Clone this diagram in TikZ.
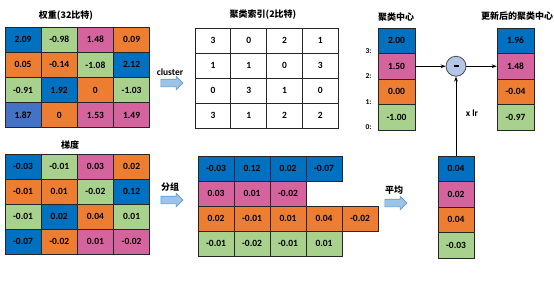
\documentclass[tikz,border=0pt]{standalone}
\usepackage{fontspec}
\setmainfont{Carlito}
\newfontfamily\cjk{Noto Sans CJK SC}
\usetikzlibrary{arrows.meta,positioning,shapes.arrows}
\definecolor{cb}{HTML}{0070C0}
\definecolor{cbl}{HTML}{4472C4}
\definecolor{cg}{HTML}{A9D18E}
\definecolor{cp}{HTML}{D5649E}
\definecolor{co}{HTML}{ED7D31}
\definecolor{sky}{HTML}{9DC3E6}
\definecolor{skyd}{HTML}{5B9BD5}
\definecolor{circ}{HTML}{B4C7E7}
\tikzset{
  cell/.style={draw=black!85,line width=0.7pt,minimum width=36pt,minimum height=25pt,inner sep=0pt,font=\fontsize{9.5}{11}\selectfont\bfseries},
  ttl/.style={font=\fontsize{9}{10}\selectfont\cjk\bfseries,inner sep=1pt},
  lbl/.style={font=\fontsize{9.5}{11}\selectfont\bfseries,inner sep=1pt},
  idx/.style={font=\fontsize{7.5}{8}\selectfont\bfseries,inner sep=0pt},
  blk/.style={single arrow,draw=skyd,fill=sky,minimum height=22pt,single arrow head extend=3pt,inner sep=3.5pt,line width=0.6pt},
  ar/.style={-{Stealth[length=5pt]},line width=0.8pt},
}
\begin{document}
\begin{tikzpicture}[x=1pt,y=-1pt]
\useasboundingbox (0,0) rectangle (554,285);
% weights
\node[ttl] (tw) at (66,16) {权重(32比特)};
\foreach \v/\c [count=\i from 0] in {2.09/cb,-0.98/cg,1.48/cp,0.09/co,0.05/co,-0.14/co,-1.08/cg,2.12/cb,-0.91/cg,1.92/cb,0/co,-1.03/cg,1.87/cbl,0/co,1.53/cp,1.49/cp}{
  \pgfmathtruncatemacro\r{div(\i,4)}\pgfmathtruncatemacro\k{mod(\i,4)}
  \node[cell,fill=\c] (w\r\k) at (23+36.2*\k,39.6+25.2*\r) {\v};
}
% cluster index
\node[ttl] (ti) at (263,15) {聚类索引(2比特)};
\foreach \v [count=\i from 0] in {3,0,2,1,1,1,0,3,0,3,1,0,3,1,2,2}{
  \pgfmathtruncatemacro\r{div(\i,4)}\pgfmathtruncatemacro\k{mod(\i,4)}
  \node[cell,fill=white] (x\r\k) at (213+35.8*\k,40.5+25*\r) {\v};
}
\node[blk] (a1) at (170,83) {};
\node[lbl,above=2pt of a1] (lcl) {cluster};
% gradient
\node[ttl] (tg) at (70,145) {梯度};
\foreach \v/\c [count=\i from 0] in {-0.03/cb,-0.01/cg,0.03/cp,0.02/co,-0.01/co,0.01/co,-0.02/cg,0.12/cb,-0.01/cg,0.02/cb,0.04/co,0.01/cg,-0.07/cb,-0.02/co,0.01/cp,-0.02/cp}{
  \pgfmathtruncatemacro\r{div(\i,4)}\pgfmathtruncatemacro\k{mod(\i,4)}
  \node[cell,fill=\c] (g\r\k) at (23+36.2*\k,166.5+25*\r) {\v};
}
\node[blk] (a2) at (170,200) {};
\node[ttl,above=3pt of a2] (lgrp) {分组};
% grouped gradient
\foreach \c/\vals [count=\r from 0] in {cb/{-0.03,0.12,0.02,-0.07},cp/{0.03,0.01,-0.02},co/{0.02,-0.01,0.01,0.04,-0.02},cg/{-0.01,-0.02,-0.01,0.01}}
  \foreach \v [count=\k from 0] in \vals
    \node[cell,fill=\c] (q\r\k) at (216+36*\k,168.5+25*\r) {\v};
\node[blk] (a3) at (394,203) {};
\node[ttl,above=3pt of a3] (lavg) {平均};
% centroids
\node[ttl] (tc) at (396,17) {聚类中心};
\foreach \v/\c [count=\i from 0] in {2.00/cb,1.50/cp,0.00/co,-1.00/cg}{
  \pgfmathtruncatemacro\n{3-\i}
  \node[cell,fill=\c,minimum width=37pt,minimum height=25.5pt] (c\n) at (396.5,40.75+25.5*\i) {\v};
  \node[idx,anchor=east] (n\n) at ([xshift=-6pt,yshift=3pt]c\n.south west) {\n:};
}
\node[circle,draw=black!70,fill=circ,minimum size=20pt,inner sep=0pt,line width=0.8pt] (minus) at (456,66.25) {\rule{5pt}{1.8pt}};
% updated centroids
\node[ttl] (tu) at (517,16) {更新后的聚类中心};
\foreach \v/\c [count=\i from 0] in {1.96/cb,1.48/cp,-0.04/co,-0.97/cg}{
  \pgfmathtruncatemacro\n{3-\i}
  \node[cell,fill=\c,minimum width=37pt,minimum height=25.5pt] (u\n) at (515.5,40.75+25.5*\i) {\v};
}
% mean gradient
\foreach \v/\c [count=\i from 0] in {0.04/cb,0.02/cp,0.04/co,-0.03/cg}{
  \pgfmathtruncatemacro\n{3-\i}
  \node[cell,fill=\c,minimum width=36pt,minimum height=25.5pt] (m\n) at (456,168.75+25.5*\i) {\v};
}
\draw[ar] (c2.east) -- (minus);
\draw[ar] (minus) -- (u2.west);
\draw[ar] (m3) -- (minus);
\node[lbl] (lr) at (472,113) {x lr};
\end{tikzpicture}
\end{document}
